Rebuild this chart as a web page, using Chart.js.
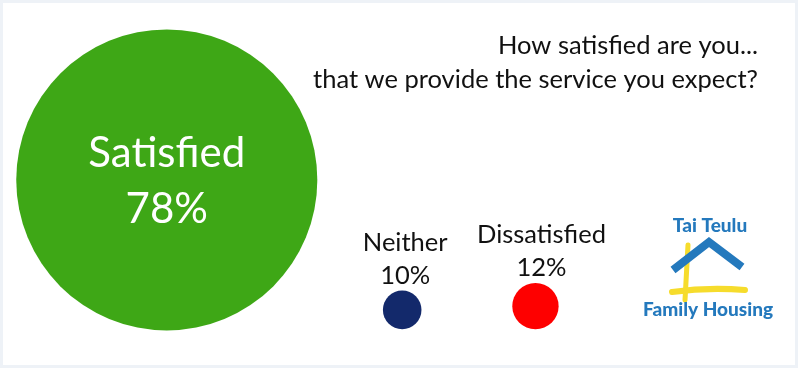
<!DOCTYPE html>
<html>
<head>
<meta charset="utf-8">
<script src="https://cdn.jsdelivr.net/npm/chart.js@4.4.1/dist/chart.umd.min.js"></script>
<style>
  html, body { margin: 0; padding: 0; background: #fff; }
  #wrap { width: 798px; height: 368px; }
</style>
</head>
<body>
<div id="wrap"><canvas id="satisfaction" width="798" height="368"></canvas></div>
<script>
// survey results
const categories = ['Satisfied', 'Neither', 'Dissatisfied'];
const percentages = [78, 10, 12];
const titleLines = ['How satisfied are you...', 'that we provide the service you expect?'];
const logoLines = ['Tai Teulu', 'Family Housing'];

// layout (scale units 0..100 on both axes) and styles
const bubbleX = [20.9, 50.4, 67.1];
const bubbleY = [51.1, 15.8, 16.8];
const labelShift = [0, 3, 6]; // labels sit slightly right of the small dots
const pxPerPercent = 1.93;
const colors = ['#3ea716', '#13296b', '#fe0000'];
const FONT = 'Lato, "Open Sans", sans-serif';

// frame, title, labels and the logo
const decor = {
  id: 'decor',
  beforeDraw(chart) {
    const { ctx, width, height } = chart;
    ctx.save();
    ctx.fillStyle = '#eef2f7';
    ctx.fillRect(0, 0, width, height);
    ctx.fillStyle = '#ffffff';
    ctx.fillRect(3, 3, 792, 362);
    ctx.restore();
  },
  afterDatasetsDraw(chart) {
    const { ctx } = chart;
    const meta = chart.getDatasetMeta(0);
    ctx.save();
    ctx.textAlign = 'center';
    ctx.textBaseline = 'alphabetic';

    meta.data.forEach((el, i) => {
      const r = el.options.radius;
      const pct = percentages[i] + '%';
      const lx = el.x + labelShift[i];
      if (i === 0) {
        ctx.fillStyle = '#ffffff';
        ctx.font = '42px ' + FONT;
        ctx.fillText(categories[i], lx, el.y - 13);
        ctx.fillText(pct, lx, el.y + 43);
      } else {
        ctx.fillStyle = '#111111';
        ctx.font = '25.5px ' + FONT;
        ctx.fillText(categories[i], lx, el.y - r - 40);
        ctx.fillText(pct, lx, el.y - r - 7);
      }
    });

    // title
    ctx.textAlign = 'right';
    ctx.fillStyle = '#111111';
    ctx.font = '25.5px ' + FONT;
    ctx.fillText(titleLines[0], 758, 54);
    ctx.fillText(titleLines[1], 758, 88);

    // logo
    const blue = '#2479bd';
    const yellow = '#f6dc2c';
    ctx.lineCap = 'round';
    ctx.strokeStyle = yellow;
    ctx.lineWidth = 5;
    ctx.beginPath();
    ctx.moveTo(688, 245);
    ctx.lineTo(685, 300);
    ctx.stroke();
    ctx.lineWidth = 6;
    ctx.beginPath();
    ctx.moveTo(672, 292);
    ctx.quadraticCurveTo(708, 287, 745, 290);
    ctx.stroke();
    ctx.strokeStyle = blue;
    ctx.lineWidth = 8;
    ctx.lineCap = 'butt';
    ctx.lineJoin = 'miter';
    ctx.beginPath();
    ctx.moveTo(673, 270);
    ctx.lineTo(709, 242);
    ctx.lineTo(742, 267);
    ctx.stroke();

    ctx.textAlign = 'center';
    ctx.fillStyle = blue;
    ctx.font = '900 19px ' + FONT;
    ctx.fillText(logoLines[0], 710, 232);
    ctx.fillText(logoLines[1], 708, 316);
    ctx.restore();
  }
};

new Chart(document.getElementById('satisfaction'), {
  type: 'bubble',
  data: {
    datasets: [{
      label: 'Satisfaction',
      data: categories.map((c, i) => ({ x: bubbleX[i], y: bubbleY[i], r: percentages[i] * pxPerPercent })),
      backgroundColor: colors,
      borderWidth: 0,
      clip: false
    }]
  },
  options: {
    responsive: false,
    animation: false,
    layout: { padding: 0, autoPadding: false },
    scales: {
      x: { display: false, min: 0, max: 100 },
      y: { display: false, min: 0, max: 100 }
    },
    plugins: {
      legend: { display: false },
      tooltip: { enabled: false }
    }
  },
  plugins: [decor]
});
</script>
</body>
</html>
